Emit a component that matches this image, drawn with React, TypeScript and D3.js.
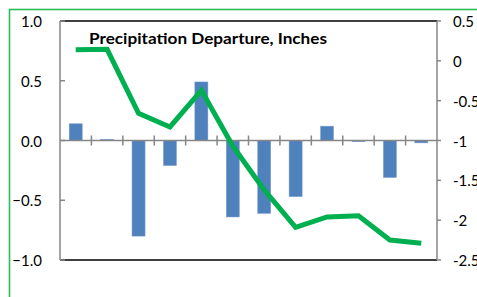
import React from "react";
import * as d3 from "d3";

const categories = ["1", "2", "3", "4", "5", "6", "7", "8", "9", "10", "11", "12"];
const barValues = [0.14, 0.01, -0.8, -0.21, 0.49, -0.64, -0.61, -0.47, 0.12, -0.01, -0.31, -0.02];
const lineValues = [0.14, 0.145, -0.66, -0.83, -0.37, -1.07, -1.62, -2.09, -1.96, -1.945, -2.25, -2.29];
const leftTicks = [1.0, 0.5, 0.0, -0.5, -1.0];
const rightTicks = [0.5, 0, -0.5, -1, -1.5, -2, -2.5];
const title = "Precipitation Departure, Inches";

const W = 477;
const H = 297;
const plot = { left: 60, right: 437, top: 21, bottom: 260 };
const FONT = "Lato, 'Open Sans', sans-serif";

export default function App() {
  const x = d3
    .scaleBand<string>()
    .domain(categories)
    .range([plot.left, plot.right])
    .paddingInner(0.585)
    .paddingOuter(0.2925);
  const xStep = d3.scaleBand<string>().domain(categories).range([plot.left, plot.right]);
  const yL = d3.scaleLinear().domain([-1, 1]).range([plot.bottom, plot.top]);
  const yR = d3.scaleLinear().domain([-2.5, 0.5]).range([plot.bottom, plot.top]);
  const y0 = yL(0);

  const line = d3
    .line<number>()
    .x((_, i) => (xStep(categories[i]) as number) + xStep.bandwidth() / 2)
    .y((d) => yR(d));

  const boundaries = d3.range(1, categories.length).map(
    (i) => xStep(categories[i]) as number
  );

  return (
    <svg
      width={W}
      height={H}
      style={{ position: "absolute", left: 0, top: 0, background: "#fff" }}
    >
      <rect x={0} y={0} width={W} height={H} fill="#fff" />
      {/* outer green frame */}
      <rect x={9.5} y={9.5} width={600} height={400} fill="none" stroke="#2dbd58" strokeWidth={1.6} />

      {/* plot border top / bottom */}
      <line x1={plot.left} x2={plot.right} y1={plot.top} y2={plot.top} stroke="#000" strokeWidth={1.5} />
      <line x1={plot.left} x2={plot.right} y1={plot.bottom} y2={plot.bottom} stroke="#000" strokeWidth={1.5} />

      {/* bars */}
      {barValues.map((v, i) => (
        <rect
          key={i}
          x={x(categories[i])}
          width={x.bandwidth()}
          y={Math.min(yL(v), y0)}
          height={Math.abs(yL(v) - y0)}
          fill="#4f81bd"
          stroke="#7a9fd0"
          strokeWidth={0.5}
        />
      ))}

      {/* category axis */}
      <line x1={plot.left} x2={plot.right} y1={y0} y2={y0} stroke="#868686" strokeWidth={1.5} />
      {boundaries.map((b, i) => (
        <line key={i} x1={b} x2={b} y1={y0 - 5} y2={y0 + 5} stroke="#868686" strokeWidth={1.5} />
      ))}

      {/* left axis */}
      <line x1={plot.left} x2={plot.left} y1={plot.top} y2={plot.bottom} stroke="#868686" strokeWidth={1.5} />
      {leftTicks.map((t, i) => (
        <g key={i}>
          <line x1={plot.left} x2={plot.left + 5} y1={yL(t)} y2={yL(t)} stroke="#868686" strokeWidth={1.5} />
          <text
            x={42}
            y={yL(t)}
            textAnchor="end"
            dominantBaseline="central"
            fontFamily={FONT}
            fontSize={15}
            fill="#000"
          >
            {d3.format(".1f")(t)}
          </text>
        </g>
      ))}

      {/* right axis */}
      <line x1={plot.right} x2={plot.right} y1={plot.top} y2={plot.bottom} stroke="#868686" strokeWidth={1.5} />
      {rightTicks.map((t, i) => (
        <g key={i}>
          <line x1={plot.right} x2={plot.right + 4} y1={yR(t)} y2={yR(t)} stroke="#868686" strokeWidth={1.5} />
          <text
            x={453}
            y={yR(t)}
            textAnchor="start"
            dominantBaseline="central"
            fontFamily={FONT}
            fontSize={15}
            fill="#000"
          >
            {String(t)}
          </text>
        </g>
      ))}

      {/* line series */}
      <path
        d={line(lineValues) || ""}
        fill="none"
        stroke="#00b050"
        strokeWidth={5}
        strokeLinejoin="miter"
        strokeLinecap="butt"
      />

      {/* title */}
      <text
        x={89}
        y={44}
        fontFamily={FONT}
        fontWeight="bold"
        fontSize={14.5}
        textLength={238}
        lengthAdjust="spacingAndGlyphs"
        fill="#000"
      >
        {title}
      </text>
    </svg>
  );
}
